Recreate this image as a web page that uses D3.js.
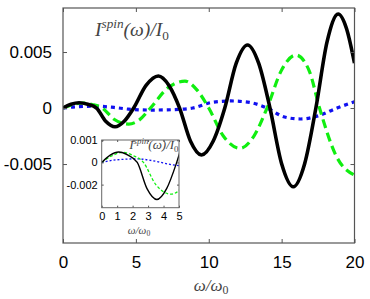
<!DOCTYPE html>
<html>
<head>
<meta charset="utf-8">
<script src="https://cdn.jsdelivr.net/npm/d3@7"></script>
<style>
  body { margin: 0; background: #fff; }
  .tick text { font-family: "Liberation Sans", Arial, sans-serif; fill: #000; }
  .mathlabel { font-family: "Liberation Serif", "DejaVu Serif", serif; font-style: italic; fill: #444; }
</style>
</head>
<body>
<script>
// spin current curves as [omega, value]
var blackCurve = [[0,0],[0.55,0.00033],[1.1,0.00047],[1.7,0.00033],[2.3,0],[2.93,-0.00118],[3.57,-0.00167],
  [4.2,-0.00118],[4.85,0],[5.7,0.00202],[6.54,0.00286],[7.27,0.00202],[8.0,0],[8.75,-0.00297],[9.5,-0.0042],
  [10.3,-0.00297],[11.1,0],[11.88,0.00398],[12.66,0.00563],[13.43,0.00398],[14.2,0],[15.0,-0.00497],
  [15.8,-0.00703],[16.58,-0.00497],[17.35,0],[18.12,0.00593],[18.88,0.00839],[19.45,0.0071],[20,0.004]]
var greenCurve = [[0,0],[0.6,0.00028],[1.4,0.00045],[2.0,0.00032],[2.7,0],[3.5,-0.001],[4.5,-0.00143],
  [5.2,-0.0011],[6.0,0],[7.2,0.0018],[8.37,0.0024],[9.2,0.0016],[10.0,0],[11.0,-0.0025],[12.14,-0.0036],
  [13.1,-0.0025],[14.0,0],[15.0,0.0034],[15.98,0.00473],[16.9,0.0033],[17.6,0],[18.75,-0.0043],[20,-0.006]]
var blueCurve = [[0,0],[1.0,0.00012],[2.3,0.00016],[3.5,0.00005],[4.5,-0.0001],[6.0,-0.00018],[7.5,-0.00015],
  [8.9,0],[10.2,0.0005],[11.5,0.00063],[12.8,0.0005],[14.0,0],[15.2,-0.0008],[16.3,-0.00098],[17.5,-0.0007],
  [18.8,0],[20,0.00056]]

// ticks and labels
var xTicks = [0, 5, 10, 15, 20]
var yTicks = [0.005, 0, -0.005]
var yLabels = ["0.005", "0", "-0.005"]
var insetXTicks = [0, 1, 2, 3, 4, 5]
var insetYTicks = [0.001, 0, -0.001]
var insetYLabels = ["0.001", "0", "-0.002"]

var w = 370
var h = 299
var main = {left: 63, right: 354.5, top: 8, bottom: 243}
var inset = {left: 101.7, right: 179, top: 140, bottom: 207.7}

var svg = d3.select("body")
            .append("svg")
            .attr("width", w)
            .attr("height", h)

svg.append("rect").attr("width", w).attr("height", h).attr("fill", "#fff")

// scales
var xScale = d3.scaleLinear().domain([0, 20]).range([main.left, main.right])
var yScale = d3.scaleLinear().domain([-0.01205, 0.00893]).range([main.bottom, main.top])
var xIn = d3.scaleLinear().domain([0, 5]).range([inset.left, inset.right])
var yIn = d3.scaleLinear().domain([-0.00204, 0.00101]).range([inset.bottom, inset.top])

var defs = svg.append("defs")
defs.append("clipPath").attr("id", "clipMain")
    .append("rect")
    .attr("x", main.left).attr("y", main.top)
    .attr("width", main.right - main.left).attr("height", main.bottom - main.top)
defs.append("clipPath").attr("id", "clipInset")
    .append("rect")
    .attr("x", inset.left).attr("y", inset.top)
    .attr("width", inset.right - inset.left).attr("height", inset.bottom - inset.top)

function drawAxes(box, xs, ys, xt, yt, ylab, fontSize, padX, padY, tick) {
  // bottom and left axes carry the labels
  var bx = svg.append("g")
     .attr("transform", "translate(0," + box.bottom + ")")
     .call(d3.axisBottom(xs).tickValues(xt).tickSize(-tick).tickPadding(padX).tickFormat(d3.format("d")))
  var ly = svg.append("g")
     .attr("transform", "translate(" + box.left + ",0)")
     .call(d3.axisLeft(ys).tickValues(yt).tickSize(-tick).tickPadding(padY)
       .tickFormat(function(d, i) { return ylab[i] }))
  // mirror ticks top and right
  var tx = svg.append("g")
     .attr("transform", "translate(0," + box.top + ")")
     .call(d3.axisTop(xs).tickValues(xt).tickSize(-tick).tickFormat(""))
  var ry = svg.append("g")
     .attr("transform", "translate(" + box.right + ",0)")
     .call(d3.axisRight(ys).tickValues(yt).tickSize(-tick).tickFormat(""))
  ;[bx, ly, tx, ry].forEach(function(g) {
    g.select(".domain").remove()
    g.selectAll("line").attr("stroke", "#555")
    g.selectAll("text").style("font-size", fontSize + "px")
  })
}

function drawCurves(xs, ys, clip, widths, maxX) {
  var line = d3.line()
               .x(function(d) { return xs(d[0]) })
               .y(function(d) { return ys(d[1]) })
               .curve(d3.curveMonotoneX)
  var g = svg.append("g").attr("clip-path", "url(#" + clip + ")")
  var cut = function(arr) { return arr.filter(function(d) { return d[0] <= maxX + 1.5 }) }
  g.append("path").datum(cut(blueCurve)).attr("d", line)
   .attr("fill", "none").attr("stroke", "#1010f0").attr("stroke-width", widths[2])
   .attr("stroke-dasharray", widths[5])
  g.append("path").datum(cut(greenCurve)).attr("d", line)
   .attr("fill", "none").attr("stroke", "#10ee10").attr("stroke-width", widths[1])
   .attr("stroke-dasharray", widths[4])
  g.append("path").datum(cut(blackCurve)).attr("d", line)
   .attr("fill", "none").attr("stroke", "#000").attr("stroke-width", widths[0])
}

function drawTitle(x, y, size, anchor) {
  var t = svg.append("text")
     .attr("class", "mathlabel")
     .attr("x", x).attr("y", y)
     .attr("text-anchor", anchor)
     .style("font-size", size + "px")
  t.append("tspan").text("I")
  t.append("tspan").attr("dy", -size * 0.4).style("font-size", (size * 0.68) + "px").text("spin")
  t.append("tspan").attr("dy", size * 0.4).text("(ω)/I")
  t.append("tspan").attr("dy", size * 0.2).style("font-size", (size * 0.68) + "px")
   .style("font-style", "normal").text("0")
}

function drawXLabel(x, y, size) {
  var t = svg.append("text")
     .attr("class", "mathlabel")
     .attr("x", x).attr("y", y)
     .attr("text-anchor", "middle")
     .style("font-size", size + "px")
  t.append("tspan").text("ω/ω")
  t.append("tspan").attr("dy", size * 0.2).style("font-size", (size * 0.7) + "px")
   .style("font-style", "normal").text("0")
}

// main plot
drawCurves(xScale, yScale, "clipMain", [3.6, 3.2, 3.2, 0, "9,5", "4,4"], 20)
drawAxes(main, xScale, yScale, xTicks, yTicks, yLabels, 17, 13, 11, 4)
svg.append("rect")
   .attr("x", main.left).attr("y", main.top)
   .attr("width", main.right - main.left).attr("height", main.bottom - main.top)
   .attr("fill", "none").attr("stroke", "#555").attr("stroke-width", 1.2)
drawTitle(95, 36, 19.5, "start")
drawXLabel(211, 291, 17)

// inset
svg.append("rect")
   .attr("x", inset.left).attr("y", inset.top)
   .attr("width", inset.right - inset.left).attr("height", inset.bottom - inset.top)
   .attr("fill", "#fff")
drawCurves(xIn, yIn, "clipInset", [1.4, 1.3, 1.3, 0, "3,2", "2,2"], 5)
drawAxes(inset, xIn, yIn, insetXTicks, insetYTicks, insetYLabels, 11, 5, 4, 2)
svg.append("rect")
   .attr("x", inset.left).attr("y", inset.top)
   .attr("width", inset.right - inset.left).attr("height", inset.bottom - inset.top)
   .attr("fill", "none").attr("stroke", "#666").attr("stroke-width", 1)
drawTitle(178.5, 149, 13, "end")
drawXLabel(139, 234, 11)
</script>
</body>
</html>
